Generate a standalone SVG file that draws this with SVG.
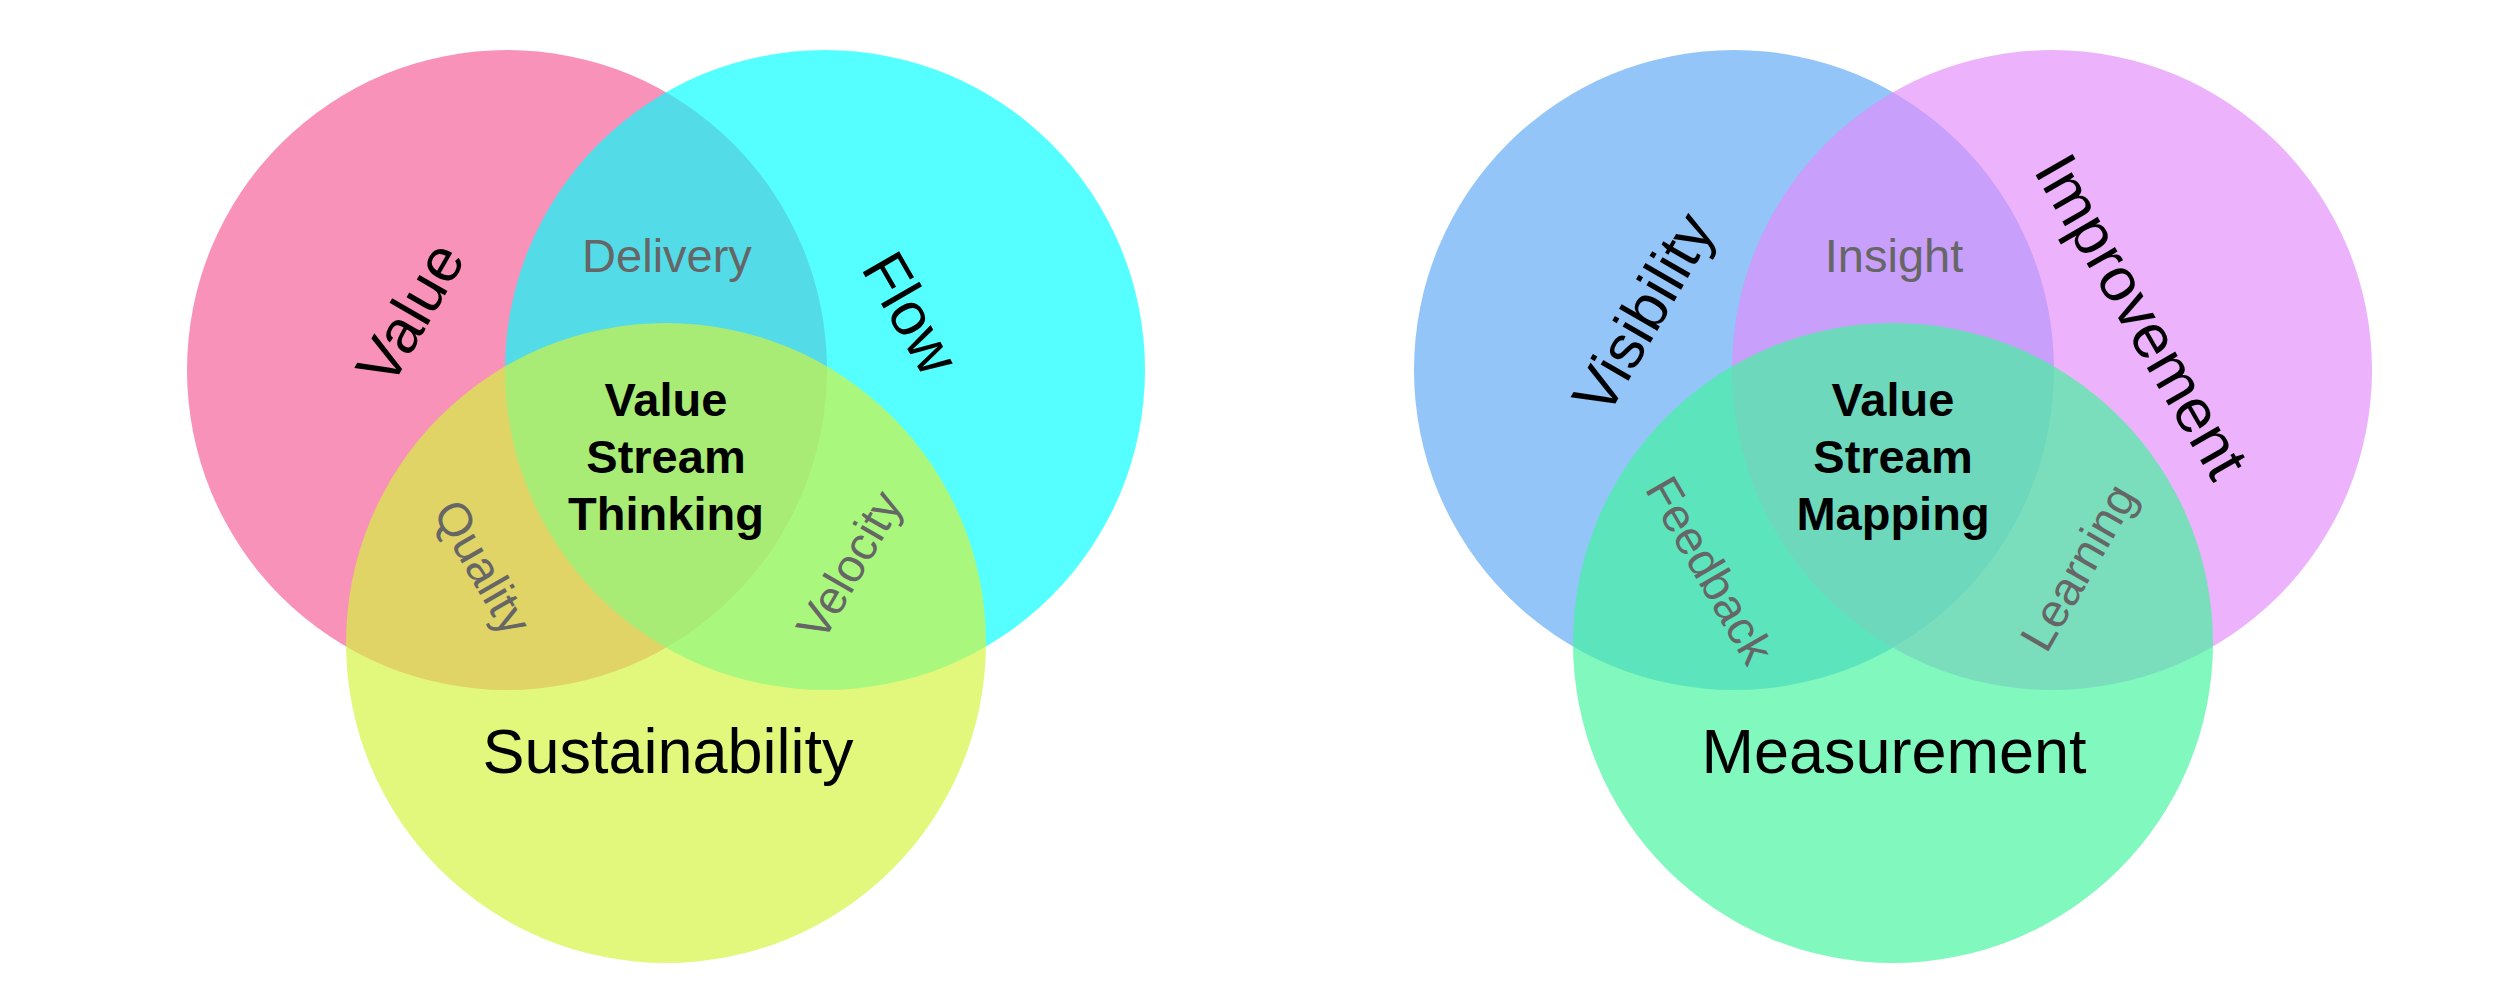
<svg xmlns="http://www.w3.org/2000/svg" width="2500" height="1000" viewBox="0 0 2500 1000">
  <style>
    .c { opacity: 0.667; }
    .t { font-family: "Liberation Sans", Arial, sans-serif; text-anchor: middle; }
    .main { font-size: 61px; fill: #000; }
    .big { font-size: 63px; fill: #000; }
    .sub { font-size: 47px; fill: #666666; }
    .core { font-size: 47px; font-weight: bold; fill: #000; }
  </style>
  <rect width="2500" height="1000" fill="#ffffff"/>

  <g id="venn-left">
    <g id="circle-value"><circle class="c" cx="507" cy="370" r="320" fill="#F55C96"/></g>
    <g id="circle-flow"><circle class="c" cx="825" cy="370" r="320" fill="#00FFFF"/></g>
    <g id="circle-sustainability"><circle class="c" cx="666" cy="643" r="320" fill="#D3F53C"/></g>

    <g id="label-value"><text class="t main" transform="translate(410,313) rotate(-60)" dy="0.35em">Value</text></g>
    <g id="label-flow"><text class="t main" transform="translate(911,313) rotate(60)" dy="0.35em">Flow</text></g>
    <g id="label-delivery"><text class="t sub" x="667" y="272">Delivery</text></g>
    <g id="label-quality"><text class="t sub" transform="translate(483,567) rotate(60)" dy="0.35em">Quality</text></g>
    <g id="label-velocity"><text class="t sub" transform="translate(849,565) rotate(-60)" dy="0.35em">Velocity</text></g>
    <g id="label-sustainability"><text class="t big" x="668" y="773">Sustainability</text></g>
    <g id="label-vst">
      <text class="t core" x="666" y="416">Value</text>
      <text class="t core" x="666" y="473">Stream</text>
      <text class="t core" x="666" y="530">Thinking</text>
    </g>
  </g>

  <g id="venn-right">
    <g id="circle-visibility"><circle class="c" cx="1734" cy="370" r="320" fill="#5DA8F5"/></g>
    <g id="circle-improvement"><circle class="c" cx="2052" cy="370" r="320" fill="#E28BFA"/></g>
    <g id="circle-measurement"><circle class="c" cx="1893" cy="643" r="320" fill="#40F59E"/></g>

    <g id="label-visibility"><text class="t main" transform="translate(1643,313) rotate(-60)" dy="0.35em">Visibility</text></g>
    <g id="label-improvement"><text class="t main" style="font-size:62px" transform="translate(2142,316) rotate(60)" dy="0.35em">Improvement</text></g>
    <g id="label-insight"><text class="t sub" x="1894" y="272">Insight</text></g>
    <g id="label-feedback"><text class="t sub" transform="translate(1710,570) rotate(60)" dy="0.35em">Feedback</text></g>
    <g id="label-learning"><text class="t sub" transform="translate(2078,567) rotate(-60)" dy="0.35em">Learning</text></g>
    <g id="label-measurement"><text class="t big" x="1894" y="773">Measurement</text></g>
    <g id="label-vsm">
      <text class="t core" x="1893" y="416">Value</text>
      <text class="t core" x="1893" y="473">Stream</text>
      <text class="t core" x="1893" y="530">Mapping</text>
    </g>
  </g>

  <g id="connectors"></g>
</svg>
